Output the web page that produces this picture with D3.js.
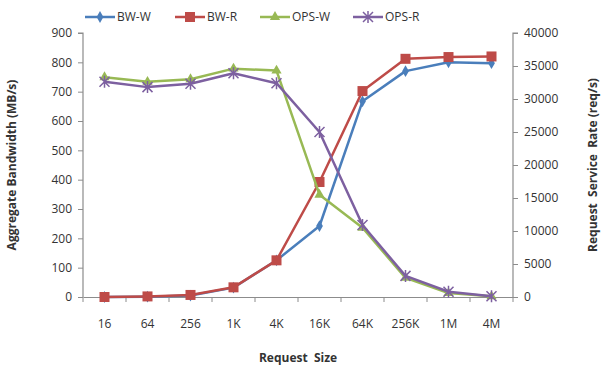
<!DOCTYPE html>
<html>
<head>
<meta charset="utf-8">
<script src="https://cdn.jsdelivr.net/npm/d3@7"></script>
<style>
  body { margin: 0; background: #fff; }
  text { font-family: "Open Sans", "Noto Sans", sans-serif; fill: #333; }
</style>
</head>
<body>
<script>
// categories and series
let sizes = ["16", "64", "256", "1K", "4K", "16K", "64K", "256K", "1M", "4M"];
let bwW = [0, 1, 5, 32, 125, 242, 667, 770, 800, 797];
let bwR = [0, 2, 7, 33, 125, 392, 702, 812, 818, 820];
let opsW = [33300, 32600, 33000, 34600, 34300, 15500, 10500, 2900, 600, 100];
let opsR = [32600, 31800, 32300, 33900, 32400, 25000, 10900, 3200, 800, 100];
let leftTicks = [0, 100, 200, 300, 400, 500, 600, 700, 800, 900];
let rightTicks = [0, 5000, 10000, 15000, 20000, 25000, 30000, 35000, 40000];

let width = 607, height = 371;
let plotL = 83, plotR = 513, plotT = 33, plotB = 297;

let svg = d3.select("body").append("svg")
    .attr("width", width)
    .attr("height", height);

let x = d3.scaleBand().domain(sizes).range([plotL, plotR]);
let yL = d3.scaleLinear().domain([0, 900]).range([plotB, plotT]);
let yR = d3.scaleLinear().domain([0, 40000]).range([plotB, plotT]);

let axisColor = "#8c8c8c";

// left axis
let gL = svg.append("g").attr("transform", "translate(" + plotL + ",0)");
gL.call(d3.axisLeft(yL).tickValues(leftTicks).tickSize(5).tickPadding(6));
// right axis, plain numbers without thousands separator
let gR = svg.append("g").attr("transform", "translate(" + plotR + ",0)");
gR.call(d3.axisRight(yR).tickValues(rightTicks).tickFormat(d3.format("d")).tickSize(5).tickPadding(6));
// bottom axis, ticks sit between the categories
let gB = svg.append("g").attr("transform", "translate(0," + plotB + ")");
gB.call(d3.axisBottom(x).tickSize(0).tickPadding(22));
gB.selectAll(".between").data(d3.range(sizes.length + 1)).enter().append("line")
    .attr("x1", i => plotL + i * x.step()).attr("x2", i => plotL + i * x.step())
    .attr("y1", 0).attr("y2", 5)
    .attr("stroke", axisColor);

[gL, gR, gB].forEach(g => {
  g.select(".domain").attr("stroke", axisColor).attr("stroke-width", 1.2);
  g.selectAll(".tick line").attr("stroke", axisColor);
  g.selectAll(".tick text").attr("font-size", 12).attr("fill", "#333")
    .attr("font-family", "'Open Sans', 'Noto Sans', sans-serif");
});
gL.select(".domain").attr("d", "M0," + plotB + "V" + plotT + "H-5");
gR.select(".domain").attr("d", "M0," + plotB + "V" + plotT + "H5");

// axis titles
svg.append("text")
    .attr("transform", "translate(16," + ((plotT + plotB) / 2) + ") rotate(-90)")
    .attr("text-anchor", "middle").attr("font-size", 12).attr("font-weight", "bold")
    .text("Aggregate Bandwidth (MB/s)");
svg.append("text")
    .attr("transform", "translate(597," + ((plotT + plotB) / 2) + ") rotate(-90)")
    .attr("text-anchor", "middle").attr("font-size", 12).attr("font-weight", "bold")
    .attr("xml:space", "preserve")
    .text("Request  Service  Rate (req/s)");
svg.append("text")
    .attr("x", (plotL + plotR) / 2).attr("y", 362)
    .attr("text-anchor", "middle").attr("font-size", 12).attr("font-weight", "bold")
    .attr("xml:space", "preserve")
    .text("Request  Size");

// marker shapes
function drawMarker(g, type, color) {
  if (type == "diamond") {
    g.append("path").attr("d", d3.symbol(d3.symbolDiamond, 40)).attr("fill", color);
  } else if (type == "square") {
    g.append("rect").attr("x", -5).attr("y", -5).attr("width", 10).attr("height", 10).attr("fill", color);
  } else if (type == "triangle") {
    g.append("path").attr("d", d3.symbol(d3.symbolTriangle, 45)).attr("fill", color);
  } else {
    g.append("path").attr("d", "M-5,-5L5,5M-5,5L5,-5M0,-6V6")
      .attr("stroke", color).attr("stroke-width", 1.5).attr("fill", "none");
  }
}

let series = [
  { name: "BW-W", values: bwW, y: yL, color: "#4a7ebb", marker: "diamond" },
  { name: "BW-R", values: bwR, y: yL, color: "#be4b48", marker: "square" },
  { name: "OPS-W", values: opsW, y: yR, color: "#98b954", marker: "triangle" },
  { name: "OPS-R", values: opsR, y: yR, color: "#7d60a0", marker: "star" }
];

series.forEach(s => {
  let line = d3.line()
      .x((d, i) => x(sizes[i]) + x.bandwidth() / 2)
      .y(d => s.y(d));
  svg.append("path")
      .datum(s.values)
      .attr("fill", "none")
      .attr("stroke", s.color)
      .attr("stroke-width", 2.5)
      .attr("stroke-linejoin", "round")
      .attr("d", line);
  s.values.forEach((v, i) => {
    let g = svg.append("g")
        .attr("transform", "translate(" + (x(sizes[i]) + x.bandwidth() / 2) + "," + s.y(v) + ")");
    drawMarker(g, s.marker, s.color);
  });
});

// legend
let legendX = [85, 175, 260, 353];
series.forEach((s, i) => {
  let g = svg.append("g").attr("transform", "translate(" + legendX[i] + ",17)");
  g.append("line").attr("x1", 0).attr("x2", 30).attr("stroke", s.color).attr("stroke-width", 2.5);
  let m = g.append("g").attr("transform", "translate(15,0)");
  drawMarker(m, s.marker, s.color);
  g.append("text").attr("x", 32).attr("y", 4).attr("font-size", 12).text(s.name);
});
</script>
</body>
</html>
